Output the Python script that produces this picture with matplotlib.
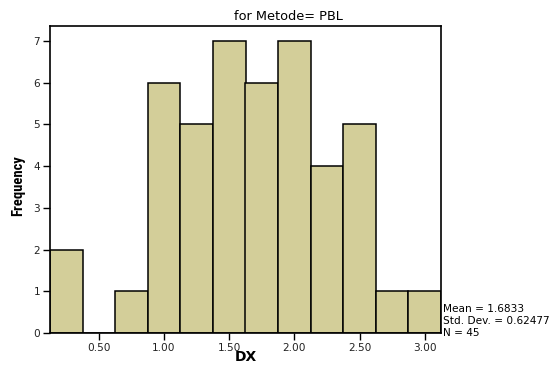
import matplotlib
matplotlib.use("Agg")
import matplotlib.pyplot as plt
from matplotlib import font_manager as fm

bin_centers = [0.25, 0.50, 0.75, 1.00, 1.25, 1.50, 1.75, 2.00, 2.25, 2.50, 2.75, 3.00]
counts = [2, 0, 1, 6, 5, 7, 6, 7, 4, 5, 1, 1]
bin_width = 0.25
xtick_vals = [0.5, 1.0, 1.5, 2.0, 2.5, 3.0]
xtick_labels = ["0.50", "1.00", "1.50", "2.00", "2.50", "3.00"]
ytick_vals = [0, 1, 2, 3, 4, 5, 6, 7]
title = "for Metode= PBL"
stats = ["Mean = 1.6833", "Std. Dev. = 0.62477", "N = 45"]

plt.rcParams['font.family'] = ['DejaVu Sans']

installed = {f.name for f in fm.fontManager.ttflist}
narrow = [n for n in ['Liberation Sans Narrow', 'Arial Narrow', 'Roboto Condensed',
                      'Archivo Narrow', 'DejaVu Sans'] if n in installed]

fig = plt.figure(figsize=(5.54, 3.72), dpi=100)
ax = fig.add_axes([50/554, 1-333/372, (441-50)/554, (333-26)/372])

ax.bar(bin_centers, counts, width=bin_width, color='#D3CE99',
       edgecolor='black', linewidth=1.1, align='center')

ax.set_xlim(bin_centers[0]-bin_width/2, bin_centers[-1]+bin_width/2)
ax.set_ylim(0, 7.36)
ax.set_xticks(xtick_vals)
ax.set_xticklabels(xtick_labels)
ax.set_yticks(ytick_vals)
ax.tick_params(axis='both', labelsize=7.6, length=5, width=1, direction='out',
               colors='black', labelcolor='#222222', pad=2)
for s in ax.spines.values():
    s.set_linewidth(1.2)

fig.text(246/554, 1-357/372, "DX", ha='center', va='center',
         fontsize=10, fontweight='bold')
fig.text(18/554, 1-186/372, "Frequency", rotation=90, ha='center', va='center',
         fontsize=10.5, fontweight='bold', family=narrow[:1])

fig.text(288/554, 1-16/372, title, ha='center', va='center', fontsize=9.3)

for i, line in enumerate(stats):
    fig.text(443/554, 1-(309 + 12*i)/372, line, ha='left', va='center', fontsize=7.6)

fig.savefig("out.png", dpi=100)
